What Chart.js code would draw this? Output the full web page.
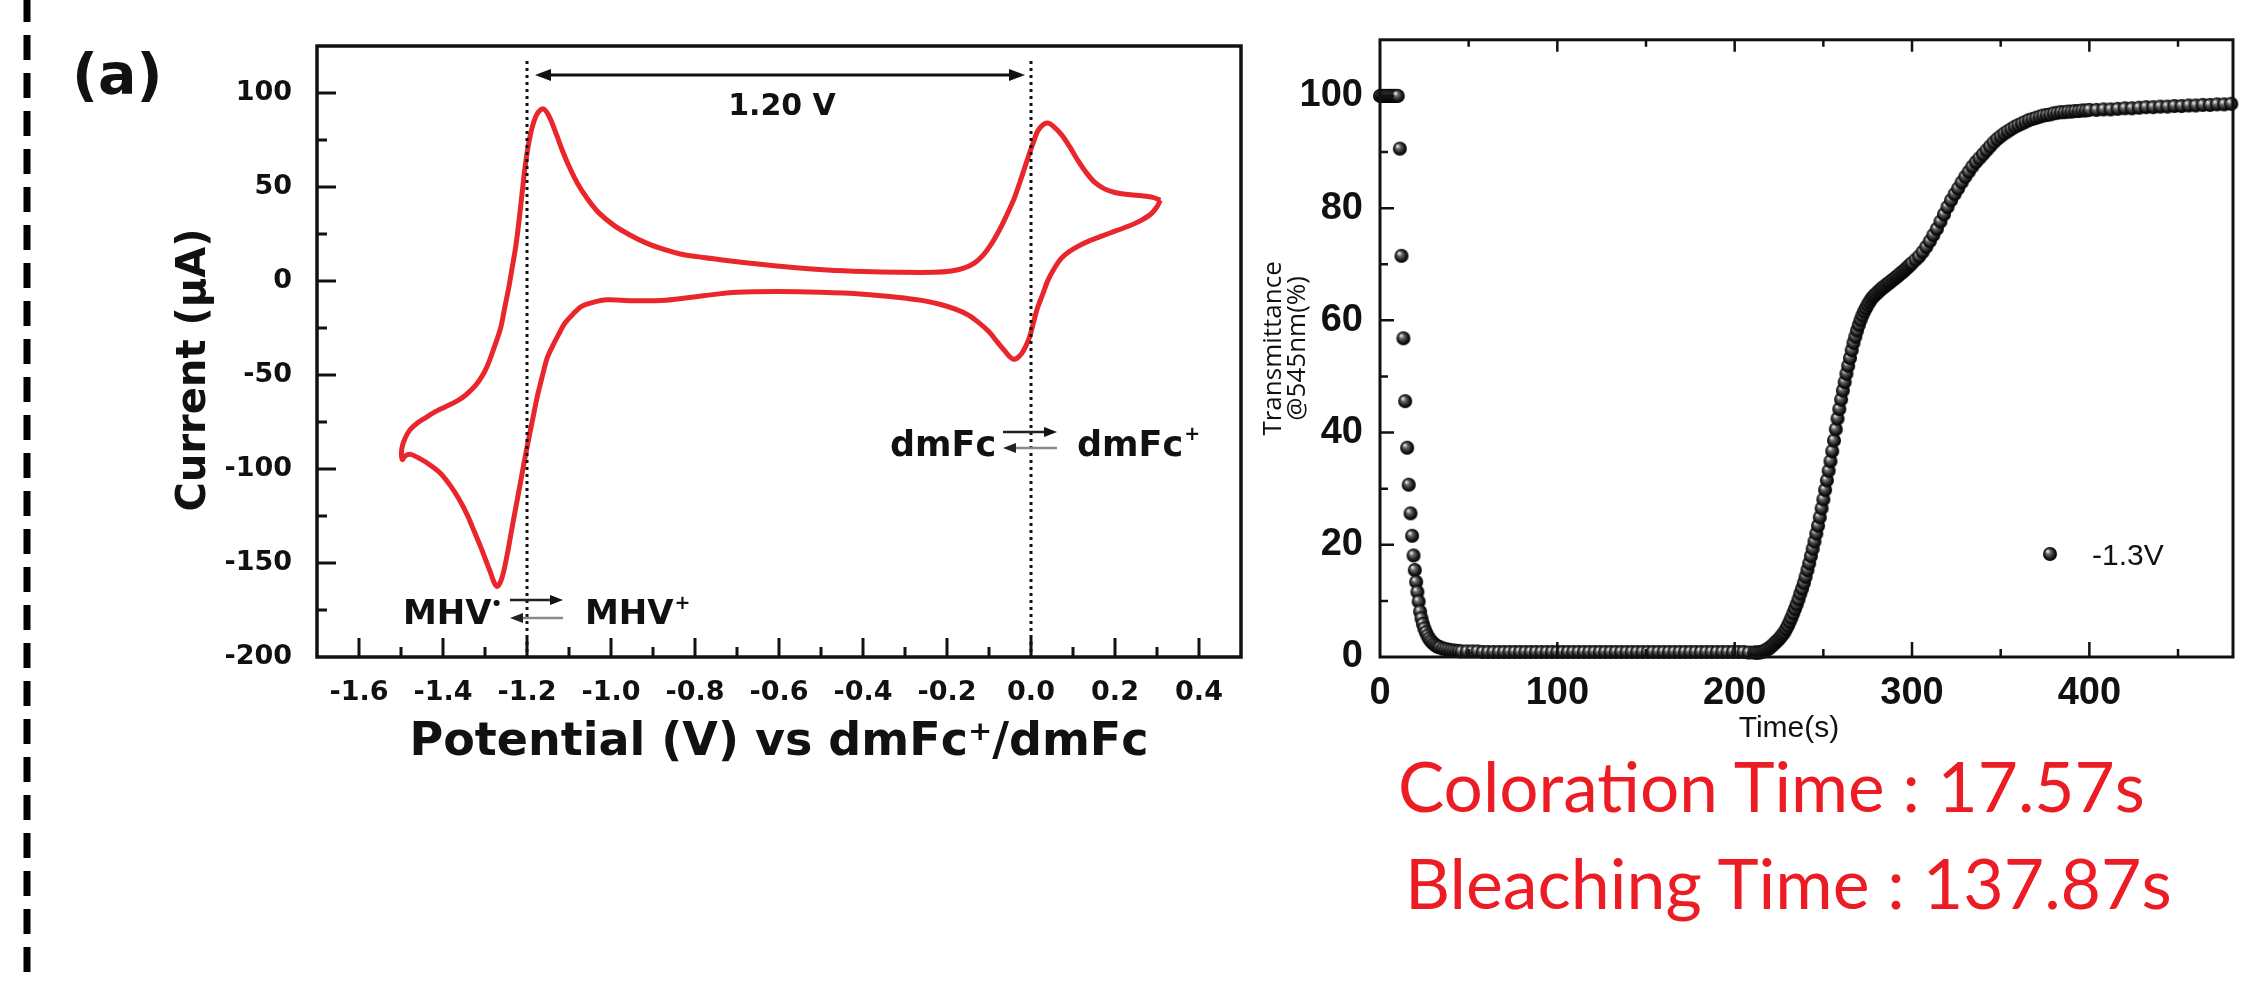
<!DOCTYPE html>
<html>
<head>
<meta charset="utf-8">
<script src="https://cdn.jsdelivr.net/npm/chart.js@4.4.1/dist/chart.umd.min.js"></script>
<style>
  html, body { margin: 0; padding: 0; background: #fff; }
  body { width: 2241px; height: 983px; position: relative; overflow: hidden; }
  canvas { position: absolute; top: 0; }
  #cv { left: 0; }
  #tr { left: 1262px; }
  .tag { position: absolute; white-space: nowrap; margin: 0; }
  .red { color: #ec1c24; }
  #panel { color: #111; }
</style>
</head>
<body>
<canvas id="cv" width="1262" height="983"></canvas>
<canvas id="tr" width="979" height="983"></canvas>
<div class="tag" id="panel">(a)</div>
<div class="tag red" id="coloration">Coloration Time : 17.57s</div>
<div class="tag red" id="bleaching">Bleaching Time : 137.87s</div>
<script>
// ---- cyclic voltammogram, negative-going sweep (V vs dmFc+/dmFc, µA)
const cvNegV = [
  0.308, 0.300, 0.285, 0.260, 0.230, 0.200, 0.170, 0.140, 0.115, 0.092,
  0.072, 0.055, 0.040, 0.028, 0.016, 0.006, -0.003, -0.012, -0.022, -0.033,
  -0.042, -0.052, -0.063, -0.080, -0.100, -0.125, -0.150, -0.180, -0.215, -0.260,
  -0.320, -0.400, -0.500, -0.600, -0.700, -0.780, -0.870, -0.950, -1.010, -1.045,
  -1.070, -1.090, -1.110, -1.125, -1.140, -1.152, -1.164, -1.176, -1.186, -1.196,
  -1.206, -1.215, -1.225, -1.235, -1.245, -1.255, -1.263, -1.271, -1.279, -1.287,
  -1.299, -1.311, -1.326, -1.342, -1.362, -1.382, -1.405, -1.430, -1.455, -1.477,
  -1.490, -1.497
];
const cvNegI = [
  43.0, 39.5, 35.5, 32.0, 29.0, 26.5, 24.0, 21.5, 18.8, 15.8,
  12.0, 6.5, 0.2, -7.0, -14.0, -22.0, -29.5, -34.5, -38.5, -41.0,
  -41.6, -40.0, -37.0, -32.5, -27.0, -22.0, -18.0, -15.0, -12.5, -10.3,
  -8.6, -7.0, -6.0, -5.6, -6.0, -7.8, -10.2, -10.5, -10.0, -11.5,
  -13.5, -17.5, -22.5, -28.5, -35.0, -41.0, -51.0, -62.0, -73.0, -84.0,
  -95.5, -106.5, -118.5, -130.5, -143.0, -154.0, -160.0, -162.5, -160.0, -155.0,
  -148.0, -141.0, -133.0, -124.5, -116.0, -109.0, -102.5, -98.0, -94.5, -92.2,
  -93.0, -95.0
];
// ---- positive-going sweep back to the start
const cvPosV = [
  -1.498, -1.490, -1.478, -1.461, -1.440, -1.422, -1.395, -1.366, -1.345, -1.323,
  -1.308, -1.295, -1.280, -1.263, -1.252, -1.243, -1.235, -1.227, -1.219, -1.212,
  -1.205, -1.197, -1.188, -1.178, -1.168, -1.160, -1.152, -1.142, -1.130, -1.115,
  -1.100, -1.080, -1.057, -1.030, -0.993, -0.955, -0.914, -0.870, -0.835, -0.780,
  -0.720, -0.650, -0.560, -0.486, -0.400, -0.311, -0.231, -0.190, -0.160, -0.135,
  -0.115, -0.095, -0.079, -0.060, -0.039, -0.022, -0.007, 0.006, 0.016, 0.028,
  0.040, 0.052, 0.072, 0.092, 0.112, 0.132, 0.152, 0.175, 0.200, 0.230,
  0.264, 0.290, 0.308
];
const cvPosI = [
  -89.0, -83.5, -79.0, -75.5, -72.5, -70.0, -67.0, -63.8, -60.5, -55.7,
  -51.0, -45.5, -36.5, -25.2, -13.0, -3.0, 7.5, 18.0, 32.0, 46.0,
  60.0, 72.0, 81.5, 88.0, 91.0, 91.5, 89.5, 85.0, 78.0, 69.0,
  61.0, 52.0, 44.0, 36.5, 29.6, 24.5, 20.0, 16.5, 14.4, 12.5,
  10.8, 9.0, 7.0, 5.8, 5.0, 4.6, 4.6, 5.3, 6.8, 9.5,
  13.5, 19.5, 25.5, 34.0, 44.5, 55.5, 65.7, 74.0, 79.8, 83.0,
  84.0, 82.5, 78.0, 71.5, 64.0, 57.5, 52.4, 49.0, 47.1, 46.0,
  45.3, 44.5, 43.0
];
const cvTicksX = [-1.6, -1.4, -1.2, -1.0, -0.8, -0.6, -0.4, -0.2, 0.0, 0.2, 0.4];
const cvMinorX = [-1.5, -1.3, -1.1, -0.9, -0.7, -0.5, -0.3, -0.1, 0.1, 0.3];
const cvTicksY = [-200, -150, -100, -50, 0, 50, 100];
const cvMinorY = [-175, -125, -75, -25, 25, 75];
const peakPotentials = [-1.2, 0.0];   // dotted guides
const peakGap = '1.20 V';

// ---- transmittance at 545 nm vs time, -1.3 V step
const plateauTime = [0, 1, 2, 3, 4, 5, 6, 7, 8, 9, 10];
const plateauT = [100, 100, 100, 100, 100, 100, 100, 100, 100, 100, 100];
const fallTime = [
  11.2, 12.1, 13.2, 14.2, 15.3, 16.2, 17.2, 18.1, 18.9, 19.6,
  20.4, 21.1, 21.8, 22.6, 23.4, 24.2, 25.0, 25.9, 26.8, 27.7,
  28.6, 29.5, 30.4, 31.3, 32.2, 33.1, 34.0, 35.5, 37.0, 38.5,
  40.0, 41.5, 43.0, 44.5
];
const fallT = [
  90.6, 71.5, 56.8, 45.6, 37.3, 30.7, 25.6, 21.6, 18.1, 15.5,
  13.4, 11.6, 9.9, 8.1, 6.9, 5.9, 5.1, 4.4, 3.8, 3.3,
  2.9, 2.6, 2.3, 2.1, 1.9, 1.8, 1.7, 1.5, 1.4, 1.3,
  1.2, 1.15, 1.1, 1.05
];
const darkTime = [
  46, 49, 52, 55, 58, 61, 64, 67, 70, 73,
  76, 79, 82, 85, 88, 91, 94, 97, 100, 103,
  106, 109, 112, 115, 118, 121, 124, 127, 130, 133,
  136, 139, 142, 145, 148, 151, 154, 157, 160, 163,
  166, 169, 172, 175, 178, 181, 184, 187, 190, 193,
  196, 199, 202, 205, 208, 211
];
const darkT = [
  1.0, 1.0, 1.0, 1.0, 0.9, 0.9, 0.9, 0.9, 0.9, 0.9,
  0.9, 0.9, 0.9, 0.9, 0.9, 0.9, 0.9, 0.9, 0.9, 0.9,
  0.9, 0.9, 0.9, 0.9, 0.9, 0.9, 0.9, 0.9, 0.9, 0.9,
  0.9, 0.9, 0.9, 0.9, 0.9, 0.9, 0.9, 0.9, 0.9, 0.9,
  0.9, 0.9, 0.9, 0.9, 0.9, 0.9, 0.9, 0.9, 0.9, 0.9,
  0.9, 0.9, 0.9, 0.9, 0.8, 0.8
];
const riseTime = [
  212, 213, 214, 215, 216, 217, 218, 219, 220, 221,
  222, 223, 224, 225, 226, 227, 228, 229, 230, 231,
  232, 233, 234, 235, 236, 237, 238, 239, 240, 241,
  242, 243, 244, 245, 246, 247, 248, 249, 250, 251,
  252, 253, 254, 255, 256, 257, 258, 259, 260, 261,
  262, 263, 264, 265, 266, 267, 268, 269, 270, 271,
  272, 273, 274, 275, 276, 277, 278, 279, 280, 281,
  282, 283, 284, 285, 286, 287, 288, 289, 290, 291,
  292, 293, 294, 295, 296, 297, 298, 299, 300
];
const riseT = [
  0.8, 0.8, 0.8, 0.9, 1.0, 1.1, 1.3, 1.5, 1.7, 2.0,
  2.3, 2.6, 2.9, 3.2, 3.6, 4.0, 4.4, 5.0, 5.6, 6.3,
  7.0, 7.8, 8.6, 9.4, 10.3, 11.3, 12.2, 13.2, 14.3, 15.5,
  16.7, 18.0, 19.3, 20.6, 22.0, 23.4, 24.9, 26.5, 28.1, 29.8,
  31.5, 33.2, 34.9, 36.7, 38.6, 40.6, 42.5, 44.2, 45.9, 47.5,
  49.0, 50.5, 51.9, 53.3, 54.7, 56.0, 57.1, 58.2, 59.2, 60.1,
  60.9, 61.6, 62.2, 62.8, 63.3, 63.8, 64.2, 64.5, 64.8, 65.1,
  65.4, 65.7, 65.9, 66.2, 66.4, 66.7, 66.9, 67.2, 67.4, 67.7,
  67.9, 68.2, 68.5, 68.7, 69.0, 69.3, 69.6, 69.9, 70.2
];
const recoverTime = [
  302, 304, 306, 308, 310, 312, 314, 316, 318, 320,
  322, 324, 326, 328, 330, 332, 334, 336, 338, 340,
  342, 344, 346, 348, 350, 352, 354, 356, 358, 360,
  362, 364, 366, 368, 370, 372, 374, 376, 378, 380,
  382, 384, 386, 388, 390, 392, 394, 396, 398, 400
];
const recoverT = [
  70.8, 71.4, 72.2, 73.1, 74.1, 75.2, 76.3, 77.6, 78.9, 80.2,
  81.4, 82.5, 83.5, 84.6, 85.6, 86.5, 87.4, 88.2, 88.9, 89.6,
  90.3, 91.0, 91.7, 92.3, 92.8, 93.3, 93.7, 94.1, 94.5, 94.8,
  95.1, 95.4, 95.7, 95.9, 96.1, 96.3, 96.5, 96.6, 96.7, 96.9,
  97.0, 97.1, 97.1, 97.2, 97.2, 97.3, 97.3, 97.4, 97.4, 97.5
];
const tailTime = [
  404, 408, 412, 416, 420, 424, 428, 432, 436, 440,
  444, 448, 452, 456, 460, 464, 468, 472, 476, 480
];
const tailT = [
  97.5, 97.6, 97.6, 97.7, 97.8, 97.8, 97.9, 98.0, 98.0, 98.1,
  98.1, 98.2, 98.2, 98.3, 98.3, 98.4, 98.4, 98.5, 98.5, 98.6
];
const trTicksX = [0, 100, 200, 300, 400];
const trMinorX = [50, 150, 250, 350, 450];
const trTicksY = [0, 20, 40, 60, 80, 100];
const trMinorY = [10, 30, 50, 70, 90];

const INK = '#111';
const CV_RED = '#e8262b';
const DJ = '"DejaVu Sans"';
const LS = '"Liberation Sans"';

function pairs(xs, ys) { return xs.map((v, i) => ({ x: v, y: ys[i] })); }

function tickMarks(ctx, scale, values, side, len, a) {
  ctx.beginPath();
  values.forEach(v => {
    if (v <= scale.min || v >= scale.max) return;
    const p = scale.getPixelForValue(v);
    if (side === 'bottom') { ctx.moveTo(p, a.bottom); ctx.lineTo(p, a.bottom - len); }
    else if (side === 'top') { ctx.moveTo(p, a.top); ctx.lineTo(p, a.top + len); }
    else { ctx.moveTo(a.left, p); ctx.lineTo(a.left + len, p); }
  });
  ctx.stroke();
}

function arrow(ctx, x1, x2, y, color, headColor) {
  // shaft from x1 to x2, head at x2
  const dir = Math.sign(x2 - x1);
  ctx.strokeStyle = color; ctx.lineWidth = 2.5;
  ctx.beginPath(); ctx.moveTo(x1, y); ctx.lineTo(x2 - dir * 8, y); ctx.stroke();
  ctx.fillStyle = headColor;
  ctx.beginPath(); ctx.moveTo(x2, y); ctx.lineTo(x2 - dir * 13, y - 5); ctx.lineTo(x2 - dir * 13, y + 5); ctx.closePath(); ctx.fill();
}

function equilibrium(ctx, o) {
  ctx.font = `bold ${o.size}px ${DJ}`;
  ctx.textAlign = 'left'; ctx.textBaseline = 'alphabetic'; ctx.fillStyle = INK;
  ctx.fillText(o.left, o.x1, o.base);
  const w1 = ctx.measureText(o.left).width;
  if (o.leftSup === 'dot') {
    ctx.beginPath(); ctx.arc(o.x1 + w1 + 5, o.base - o.size * 0.62, 3, 0, Math.PI * 2); ctx.fill();
  }
  arrow(ctx, o.ax1, o.ax2, o.up, '#222', '#111');
  arrow(ctx, o.ax2, o.ax1, o.low, '#8a8a8a', '#222');
  ctx.fillStyle = INK;
  ctx.font = `bold ${o.size}px ${DJ}`;
  ctx.fillText(o.right, o.x2, o.base);
  const w2 = ctx.measureText(o.right).width;
  ctx.font = `bold ${Math.round(o.size * 0.55)}px ${DJ}`;
  ctx.fillText('+', o.x2 + w2 + 1, o.base - o.size * 0.45);
}

const cvDecor = {
  id: 'cvDecor',
  afterDraw(chart) {
    const { ctx, chartArea: a, scales: { x, y } } = chart;
    ctx.save();
    // dashed page separator on the far left
    ctx.strokeStyle = '#000'; ctx.lineWidth = 7;
    ctx.setLineDash([25, 13]); ctx.lineDashOffset = 3;
    ctx.beginPath(); ctx.moveTo(27, 0); ctx.lineTo(27, 983); ctx.stroke();
    ctx.setLineDash([]);

    // frame + inward ticks
    ctx.strokeStyle = INK; ctx.lineWidth = 3.5;
    ctx.strokeRect(a.left, a.top, a.right - a.left, a.bottom - a.top);
    ctx.lineWidth = 3;
    tickMarks(ctx, x, cvTicksX, 'bottom', 19, a);
    tickMarks(ctx, x, cvMinorX, 'bottom', 10, a);
    tickMarks(ctx, y, cvTicksY, 'left', 19, a);
    tickMarks(ctx, y, cvMinorY, 'left', 10, a);

    // dotted guides at the two formal potentials
    const gx = peakPotentials.map(v => x.getPixelForValue(v));
    ctx.lineWidth = 3; ctx.setLineDash([3, 4]); ctx.strokeStyle = '#111';
    gx.forEach(px => { ctx.beginPath(); ctx.moveTo(px, a.top + 11); ctx.lineTo(px, a.bottom); ctx.stroke(); });
    ctx.setLineDash([]);

    // double arrow with the gap label
    const ay = 75;
    ctx.strokeStyle = INK; ctx.lineWidth = 3;
    ctx.beginPath(); ctx.moveTo(gx[0] + 20, ay); ctx.lineTo(gx[1] - 18, ay); ctx.stroke();
    ctx.fillStyle = INK;
    ctx.beginPath(); ctx.moveTo(gx[0] + 8, ay); ctx.lineTo(gx[0] + 24, ay - 6); ctx.lineTo(gx[0] + 24, ay + 6); ctx.closePath(); ctx.fill();
    ctx.beginPath(); ctx.moveTo(gx[1] - 6, ay); ctx.lineTo(gx[1] - 22, ay - 6); ctx.lineTo(gx[1] - 22, ay + 6); ctx.closePath(); ctx.fill();
    ctx.font = `bold 30px ${DJ}`; ctx.textAlign = 'center'; ctx.textBaseline = 'alphabetic';
    ctx.fillText(peakGap, (gx[0] + gx[1]) / 2 + 3, 115);

    // redox couples
    equilibrium(ctx, { left: 'dmFc', right: 'dmFc', size: 35, x1: 890, base: 456,
      ax1: 1003, ax2: 1057, up: 432, low: 448, x2: 1077 });
    equilibrium(ctx, { left: 'MHV', leftSup: 'dot', right: 'MHV', size: 34, x1: 403, base: 624,
      ax1: 510, ax2: 563, up: 600, low: 618, x2: 585 });

    // y axis title
    ctx.save();
    ctx.translate(190, 370); ctx.rotate(-Math.PI / 2);
    ctx.font = `bold 40px ${DJ}`; ctx.textAlign = 'center'; ctx.textBaseline = 'alphabetic';
    ctx.fillStyle = INK;
    ctx.fillText('Current (μA)', 0, 14.6);
    ctx.restore();
    ctx.restore();
  }
};

new Chart(document.getElementById('cv'), {
  type: 'scatter',
  data: {
    datasets: [{
      data: pairs(cvNegV.concat(cvPosV), cvNegI.concat(cvPosI)),
      showLine: true,
      borderColor: CV_RED,
      borderWidth: 5,
      pointRadius: 0,
      tension: 0.3,
      clip: false
    }]
  },
  options: {
    responsive: false,
    animation: false,
    layout: { padding: { left: 0, top: 46, right: 21, bottom: 0 } },
    plugins: { legend: { display: false }, tooltip: { enabled: false } },
    scales: {
      x: {
        type: 'linear', min: -1.7, max: 0.5,
        afterBuildTicks: s => { s.ticks = cvTicksX.map(v => ({ value: v })); },
        afterFit: s => { s.height = 326; },
        grid: { display: false, drawTicks: false },
        border: { display: false },
        ticks: {
          callback: v => v.toFixed(1),
          font: { family: 'DejaVu Sans', weight: 'bold', size: 27 },
          color: INK, padding: 20, maxRotation: 0, autoSkip: false
        },
        title: {
          display: true, text: 'Potential (V) vs dmFc⁺/dmFc', color: INK,
          font: { family: 'DejaVu Sans', weight: 'bold', size: 46 },
          padding: { top: 0, bottom: 212 }
        }
      },
      y: {
        type: 'linear', min: -200, max: 125,
        afterBuildTicks: s => { s.ticks = cvTicksY.map(v => ({ value: v })); },
        afterFit: s => { s.width = 317; },
        grid: { display: false, drawTicks: false },
        border: { display: false },
        ticks: {
          callback: v => String(v),
          font: { family: 'DejaVu Sans', weight: 'bold', size: 27 },
          color: INK, padding: 25
        }
      }
    }
  },
  plugins: [cvDecor]
});

// shaded black sphere used as the marker
function makeBall(r) {
  const c = document.createElement('canvas');
  const s = 2 * r + 2;
  c.width = c.height = s;
  const g = c.getContext('2d');
  const grad = g.createRadialGradient(s / 2 - r * 0.35, s / 2 - r * 0.4, r * 0.08, s / 2, s / 2, r);
  grad.addColorStop(0, '#e6e6e6');
  grad.addColorStop(0.3, '#666');
  grad.addColorStop(0.75, '#151515');
  grad.addColorStop(1, '#000');
  g.fillStyle = grad;
  g.beginPath(); g.arc(s / 2, s / 2, r, 0, Math.PI * 2); g.fill();
  return c;
}
const ball = makeBall(7);

const trDecor = {
  id: 'trDecor',
  afterDraw(chart) {
    const { ctx, chartArea: a, scales: { x, y } } = chart;
    ctx.save();
    ctx.strokeStyle = INK; ctx.lineWidth = 3;
    ctx.strokeRect(a.left, a.top, a.right - a.left, a.bottom - a.top);
    ctx.lineWidth = 2.5;
    tickMarks(ctx, x, trTicksX, 'bottom', 15, a);
    tickMarks(ctx, x, trMinorX, 'bottom', 8, a);
    tickMarks(ctx, x, trTicksX, 'top', 12, a);
    tickMarks(ctx, x, trMinorX, 'top', 7, a);
    tickMarks(ctx, y, trTicksY, 'left', 14, a);
    tickMarks(ctx, y, trMinorY, 'left', 8, a);

    ctx.fillStyle = INK;
    ctx.font = `30px ${LS}`;
    ctx.textAlign = 'center'; ctx.textBaseline = 'alphabetic';
    ctx.fillText('Time(s)', 527, 737);

    // legend entry
    ctx.drawImage(ball, 788 - ball.width / 2, 554 - ball.height / 2);
    ctx.textAlign = 'left';
    ctx.fillText(chart.data.datasets[0].label, 830, 565);
    ctx.restore();
  }
};

new Chart(document.getElementById('tr'), {
  type: 'scatter',
  data: {
    datasets: [{
      label: '-1.3V',
      data: pairs(
        plateauTime.concat(fallTime, darkTime, riseTime, recoverTime, tailTime),
        plateauT.concat(fallT, darkT, riseT, recoverT, tailT)
      ),
      pointStyle: ball,
      pointRadius: 7,
      clip: false
    }]
  },
  options: {
    responsive: false,
    animation: false,
    layout: { padding: { left: 0, top: 27, right: 3, bottom: 0 } },
    plugins: { legend: { display: false }, tooltip: { enabled: false } },
    scales: {
      x: {
        type: 'linear', min: 0, max: 481,
        afterBuildTicks: s => { s.ticks = trTicksX.map(v => ({ value: v })); },
        afterFit: s => { s.height = 326; },
        grid: { display: false, drawTicks: false },
        border: { display: false },
        ticks: {
          callback: v => String(v),
          font: { family: 'Liberation Sans', weight: 'bold', size: 38 },
          color: INK, padding: 14, maxRotation: 0, autoSkip: false
        }
      },
      y: {
        type: 'linear', min: 0, max: 110,
        afterBuildTicks: s => { s.ticks = trTicksY.map(v => ({ value: v })); },
        afterFit: s => { s.width = 118; },
        grid: { display: false, drawTicks: false },
        border: { display: false },
        ticks: {
          callback: v => String(v),
          font: { family: 'Liberation Sans', weight: 'bold', size: 38 },
          color: INK, padding: 17
        },
        title: {
          display: true, text: ['Transmittance', '@545nm(%)'], color: INK,
          font: { family: 'Open Sans', size: 26, lineHeight: '23.5px' },
          padding: { top: 0, bottom: 0 }
        }
      }
    }
  },
  plugins: [trDecor]
});

// HTML captions: fit width, put cap-height middle at the given y
const meter = document.createElement('canvas').getContext('2d');
function placeTag(id, family, weight, size, left, capMid, capRatio, fitWidth) {
  const el = document.getElementById(id);
  const text = el.textContent;
  meter.font = `${weight} ${size}px ${family}`;
  if (fitWidth) {
    size = size * fitWidth / meter.measureText(text).width;
    meter.font = `${weight} ${size}px ${family}`;
  }
  const m = meter.measureText(text);
  const A = m.fontBoundingBoxAscent, D = m.fontBoundingBoxDescent;
  el.style.font = `${weight} ${size}px ${family}`;
  el.style.lineHeight = size + 'px';
  const baseline = capMid + capRatio * size / 2;
  el.style.left = left + 'px';
  el.style.top = (baseline - ((size - (A + D)) / 2 + A)) + 'px';
}
placeTag('panel', DJ, 'bold', 57, 72, 78 - 0.08 * 57, 0.729, 0);
placeTag('coloration', 'Lato', 'normal', 72, 1398, 787, 0.7165, 749);
placeTag('bleaching', 'Lato', 'normal', 72, 1405, 885, 0.7165, 769);
</script>
</body>
</html>
